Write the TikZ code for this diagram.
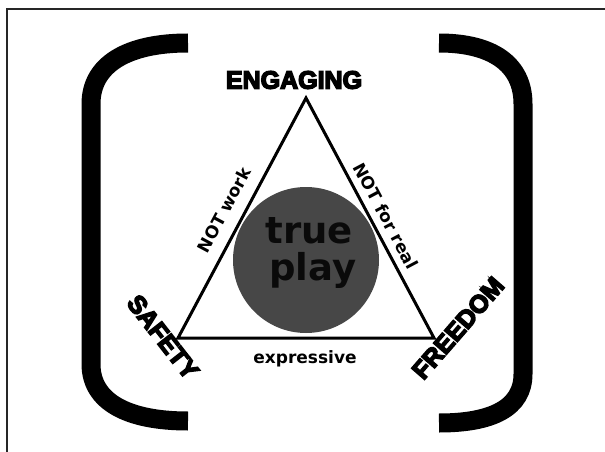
\documentclass[tikz,border=0pt]{standalone}
\usepackage{fontspec}
\usetikzlibrary{positioning,calc}
\newfontfamily\heavyfont{Liberation Sans Bold}[FakeBold=6]
\newfontfamily\labelfont{DejaVu Sans Bold}
\definecolor{playgray}{HTML}{474747}
\definecolor{playink}{HTML}{0A0A0A}

\begin{document}
\begin{tikzpicture}[x=1pt, y=-1pt,
    corner/.style={font=\heavyfont\fontsize{25}{25}\selectfont, inner sep=0pt},
    side/.style={font=\labelfont\fontsize{17}{17}\selectfont, inner sep=0pt},
    bigword/.style={font=\labelfont\fontsize{37}{37}\selectfont, text=playink, inner sep=0pt, anchor=base},
    bracket/.style={line width=19pt}]
    \useasboundingbox (0,0) rectangle (605,452);
    \clip (0,0) rectangle (605,452);
    \draw[black!85, line width=2pt] (7,9) rectangle (640,480);
    % brackets
    \draw[bracket] (188,43) .. controls (128,43) and (91,64) .. (91,104) -- (91,364) .. controls (91,402) and (128,421) .. (188,421);
    \draw[bracket] (439,43) .. controls (492,43) and (523,64) .. (523,104) -- (523,374) .. controls (523,408) and (492,423) .. (439,423);
    % triangle and circle
    \coordinate (top) at (306,98);
    \coordinate (left) at (178,338);
    \coordinate (right) at (434,338);
    \fill[playgray] (306,260) circle (73pt);
    \draw[line width=3pt] (top) -- (left) -- (right) -- cycle;
    \node[bigword] (trueword) at (309,243) {true};
    \node[bigword] (playword) at (313,280) {play};
    % corners
    \node[corner] (engaging) at (294,80) {ENGAGING};
    \node[corner, rotate=-52] (safety) at (163,337) {SAFETY};
    \node[corner, rotate=49] (freedom) at (458,328) {FREEDOM};
    % sides
    \node[side, rotate=62] (notwork) at (224,210) {NOT work};
    \node[side, rotate=-62] (notreal) at (386,216) {NOT for real};
    \node[side] (expressive) at (305,359) {expressive};
\end{tikzpicture}
\end{document}
